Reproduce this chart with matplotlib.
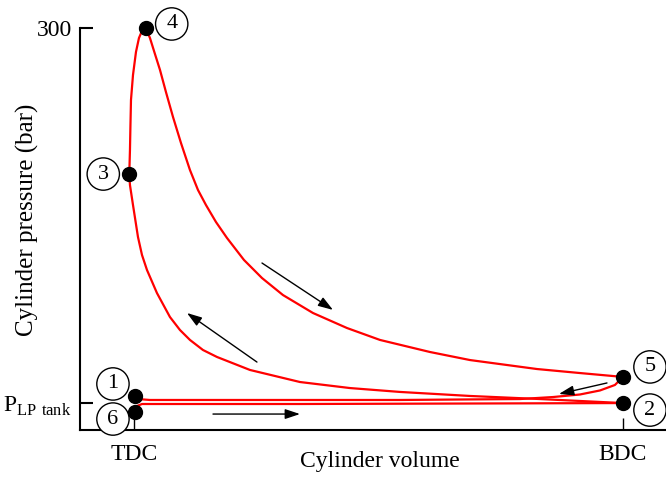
"""
Diagrama p-V del ciclo: cilindro con admision desde el tanque LP.
Volumen normalizado: TDC = 0, BDC = 1. Presion en bar.
"""
import matplotlib.pyplot as plt

plt.rcParams["font.family"] = ["Liberation Serif", "DejaVu Serif"]
plt.rcParams["mathtext.fontset"] = "custom"
plt.rcParams["mathtext.rm"] = "Liberation Serif"

P_LP = 20.0

# Tramos del ciclo (volumen, presion)
comb_v = [-0.0096, -0.0082, -0.0072, -0.0061, -0.0020, 0.0041, 0.0102, 0.0164, 0.0240]
comb_p = [191.0, 208.9, 227.6, 246.3, 264.9, 282.1, 292.5, 297.8, 300.0]

exp_v = [0.0240, 0.0327, 0.0429, 0.0532, 0.0654, 0.0798, 0.0961, 0.1145, 0.1309,
         0.1472, 0.1677, 0.1902, 0.2249, 0.2618, 0.3047, 0.3661, 0.4356, 0.5031,
         0.6053, 0.6871, 0.8241, 0.9121, 1.0]
exp_p = [300.0, 292.5, 280.6, 268.7, 252.2, 233.6, 214.2, 194.0, 179.1,
         167.9, 155.2, 143.3, 126.9, 113.4, 100.7, 87.3, 76.1, 67.2,
         58.2, 52.2, 45.5, 42.5, 39.6]

comp_v = [1.0, 0.8303, 0.6871, 0.5440, 0.4417, 0.3395, 0.2372, 0.1697, 0.1411,
          0.1145, 0.0941, 0.0736, 0.0470, 0.0266, 0.0164, 0.0082, -0.0020,
          -0.0082, -0.0096]
comp_p = [20.1, 23.1, 25.4, 28.4, 31.3, 35.8, 44.8, 54.5, 59.7,
          67.2, 74.6, 84.3, 102.2, 119.4, 130.6, 144.0, 167.9,
          182.8, 191.0]

esc_v = [1.0, 0.9836, 0.9530, 0.9121, 0.8569, 0.7894, 0.5440, 0.2372, 0.0327, 0.0082, 0.002]
esc_p = [39.6, 33.6, 29.5, 26.5, 24.6, 23.1, 22.4, 22.4, 22.4, 23.1, 25.4]

adm_v = [0.002, 0.0061, 0.0164, 0.3395, 1.0]
adm_p = [13.4, 17.9, 19.4, 19.4, 20.1]

# Puntos numerados: (etiqueta, V, p, desplazamiento de la etiqueta en pixeles)
puntos = [
    ("1", 0.002, 25.4, (-22, 12)),
    ("2", 1.0, 20.1, (27, -7)),
    ("3", -0.0096, 191.0, (-26, 0)),
    ("4", 0.024, 300.0, (26, 4)),
    ("5", 1.0, 39.6, (27, 10)),
    ("6", 0.002, 13.4, (-22, -7)),
]

# Flechas de sentido: (V cola, p cola, V punta, p punta)
flechas = [
    (0.2618, 124.6, 0.4070, 89.6),
    (0.2515, 50.7, 0.1084, 87.3),
    (0.1616, 11.9, 0.3395, 11.9),
    (0.9673, 35.1, 0.8691, 26.9),
]

fig = plt.figure(figsize=(6.66, 4.79), dpi=100)
ax = fig.add_axes([0.1201, 0.1023, 0.8799, 0.8768])

rojo = "#ff0000"
for v, p in [(comb_v, comb_p), (exp_v, exp_p), (comp_v, comp_p),
             (esc_v, esc_p), (adm_v, adm_p)]:
    ax.plot(v, p, color=rojo, lw=1.6, solid_capstyle="round",
            solid_joinstyle="round", zorder=2)

for et, v, p, off in puntos:
    ax.plot(v, p, "o", color="black", ms=10, zorder=4)
    ax.annotate(et, (v, p), xytext=off, textcoords="offset pixels",
                ha="center", va="center", fontsize=16,
                bbox=dict(boxstyle="circle,pad=0.3", fc="white", ec="black", lw=1.0),
                zorder=5)

for v0, p0, v1, p1 in flechas:
    ax.annotate("", xy=(v1, p1), xytext=(v0, p0),
                arrowprops=dict(arrowstyle="-|>,head_length=0.9,head_width=0.3",
                                color="black", lw=1.0, shrinkA=0, shrinkB=0))

ax.set_xlim(-0.1104, 1.088)
ax.set_ylim(0, 313.4)

ax.spines["top"].set_visible(False)
ax.spines["right"].set_visible(False)
ax.spines["left"].set_bounds(0, 300)
ax.spines["left"].set_linewidth(1.5)
ax.spines["bottom"].set_linewidth(1.5)

ax.set_xticks([0, 1])
ax.set_xticklabels(["TDC", "BDC"])
ax.set_yticks([P_LP, 300])
ax.set_yticklabels([r"P$_{\mathrm{LP\ tank}}$", "300"])
ax.tick_params(axis="x", direction="in", length=9, width=1.0, pad=10, labelsize=17)
ax.tick_params(axis="y", direction="in", length=9, width=1.5, pad=6, labelsize=17)

ax.set_xlabel("Cylinder volume", fontsize=17)
ax.set_ylabel("Cylinder pressure (bar)", fontsize=18)
ax.xaxis.set_label_coords(0.512, -0.05)
ax.yaxis.set_label_coords(-0.07, 0.5)

fig.savefig("out.png", dpi=100)
